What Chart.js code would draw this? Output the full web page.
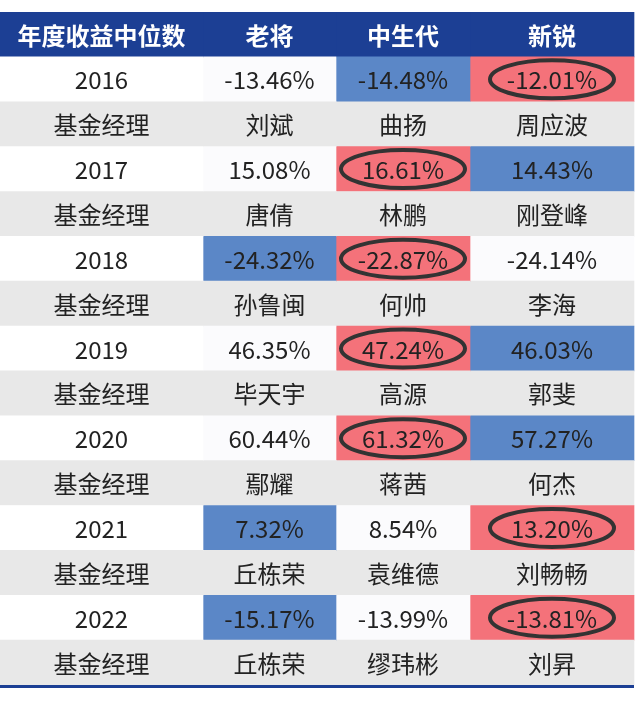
<!DOCTYPE html>
<html>
<head>
<meta charset="utf-8">
<script src="https://cdn.jsdelivr.net/npm/chart.js@4"></script>
<style>
  html, body { margin: 0; padding: 0; background: #fff; }
  #wrap { width: 640px; height: 701px; }
</style>
</head>
<body>
<div id="wrap"><canvas id="tabla"></canvas></div>
<script>
// datos de la tabla
var headers = ['年度收益中位数', '老将', '中生代', '新锐'];
var years = ['2016', '2017', '2018', '2019', '2020', '2021', '2022'];
var veteranos = [-13.46, 15.08, -24.32, 46.35, 60.44, 7.32, -15.17];
var medianos = [-14.48, 16.61, -22.87, 47.24, 61.32, 8.54, -13.99];
var nuevos = [-12.01, 14.43, -24.14, 46.03, 57.27, 13.20, -13.81];
var rowLabel = '基金经理';
var managers = [
  ['刘斌', '曲扬', '周应波'],
  ['唐倩', '林鹏', '刚登峰'],
  ['孙鲁闽', '何帅', '李海'],
  ['毕天宇', '高源', '郭斐'],
  ['鄢耀', '蒋茜', '何杰'],
  ['丘栋荣', '袁维德', '刘畅畅'],
  ['丘栋荣', '缪玮彬', '刘昇']
];

// layout (no son datos)
var colEdges = [0, 203, 336, 470, 634];
var AZUL = '#5b87c7', ROJO = '#f4727a', GRIS = '#e8e8e8', HEADER = '#1c3f94';

// construir filas
var filas = [{ tipo: 'h', textos: headers }];
years.forEach(function (y, i) {
  var vals = [veteranos[i], medianos[i], nuevos[i]];
  filas.push({ tipo: 'y', textos: [y].concat(vals.map(function (v) { return v.toFixed(2) + '%'; })), vals: vals });
  filas.push({ tipo: 'm', textos: [rowLabel].concat(managers[i]) });
});

function colorCelda(fila, c) {
  if (fila.tipo == 'h') return HEADER;
  if (fila.tipo == 'm') return GRIS;
  if (c == 0) return '#ffffff';
  var v = fila.vals[c - 1];
  if (v == Math.max.apply(null, fila.vals)) return ROJO;
  if (v == Math.min.apply(null, fila.vals)) return AZUL;
  return '#fbfbfd';
}

var datasets = [];
for (let c = 0; c < 4; c++) {
  datasets.push({
    data: filas.map(function () { return [colEdges[c], colEdges[c + 1]]; }),
    backgroundColor: filas.map(function (f) { return colorCelda(f, c); }),
    borderWidth: 0,
    grouped: false,
    barPercentage: 1,
    categoryPercentage: 1
  });
}

var textoPlugin = {
  id: 'textoPlugin',
  afterDatasetsDraw: function (chart) {
    var ctx = chart.ctx;
    ctx.save();
    ctx.textAlign = 'center';
    ctx.textBaseline = 'middle';
    for (let c = 0; c < 4; c++) {
      var meta = chart.getDatasetMeta(c);
      meta.data.forEach(function (bar, r) {
        var fila = filas[r];
        var cx = (bar.x + bar.base) / 2;
        var cy = bar.y;
        if (fila.tipo == 'h') {
          ctx.fillStyle = '#ffffff';
          ctx.font = 'bold 24px "Noto Sans CJK SC"';
        } else {
          ctx.fillStyle = '#222222';
          ctx.font = '24px "Noto Sans CJK SC"';
        }
        ctx.fillText(fila.textos[c], cx, cy + 1);
        if (fila.tipo == 'y' && c > 0 && fila.vals[c - 1] == Math.max.apply(null, fila.vals)) {
          ctx.beginPath();
          ctx.ellipse(cx, cy, 62, 19, 0, 0, Math.PI * 2);
          ctx.strokeStyle = '#333333';
          ctx.lineWidth = 4;
          ctx.stroke();
        }
      });
    }
    // linea inferior
    var area = chart.chartArea;
    ctx.fillStyle = HEADER;
    ctx.fillRect(0, area.bottom, colEdges[4], 3);
    ctx.restore();
  }
};

new Chart(document.getElementById('tabla'), {
  type: 'bar',
  data: { labels: filas.map(function (f, i) { return String(i); }), datasets: datasets },
  options: {
    indexAxis: 'y',
    responsive: true,
    maintainAspectRatio: false,
    animation: false,
    layout: { padding: { top: 12, bottom: 16, left: 0, right: 0 } },
    plugins: { legend: { display: false }, tooltip: { enabled: false } },
    scales: {
      x: { type: 'linear', min: 0, max: 640, display: false },
      y: { display: false }
    }
  },
  plugins: [textoPlugin]
});
</script>
</body>
</html>
